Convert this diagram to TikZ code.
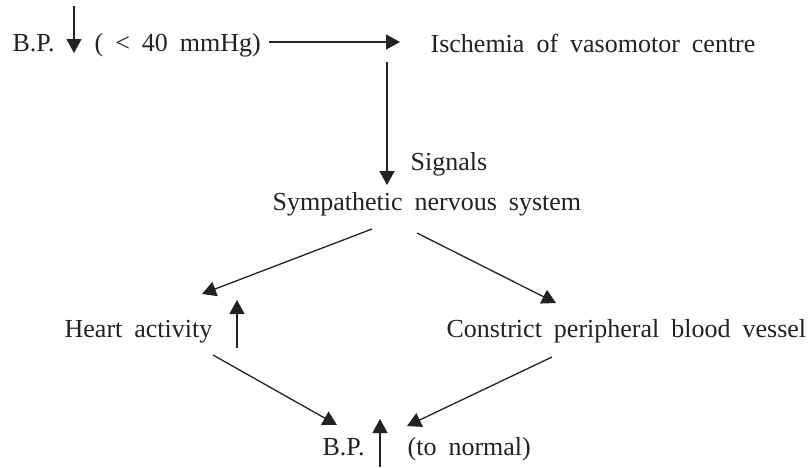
\documentclass[tikz,border=0pt]{standalone}
\usepackage{fontspec}
\setmainfont{Liberation Serif}
\usetikzlibrary{arrows.meta}

\definecolor{ink}{RGB}{34,34,34}
\tikzset{every picture/.style={line width=1.3pt}}
\tikzset{
  lbl/.style={anchor=base west, inner sep=0pt, text=ink,
    font=\fontsize{26}{31}\selectfont,
    execute at begin node={\spaceskip=12pt\relax}},
  arr/.style={draw=ink, -{Triangle[length=14pt,width=15pt]}}
}

\begin{document}
\begin{tikzpicture}[x=1pt,y=1pt,yscale=-1,xscale=1]
	\useasboundingbox (0,0) rectangle (809,467);

	% Text Node
	\node[lbl] (bpLow) at (12,51) {B.P.};
	% Text Node
	\node[lbl] (mmhg) at (94,51) {( < 40 mmHg)};
	% Text Node
	\node[lbl] (ischemia) at (430,52) {Ischemia of vasomotor centre};
	% Text Node
	\node[lbl] (signals) at (410,170) {Signals};
	% Text Node
	\node[lbl] (sympathetic) at (272,210) {Sympathetic nervous system};
	% Text Node
	\node[lbl] (heart) at (64,337) {Heart activity};
	% Text Node
	\node[lbl] (constrict) at (446,337) {Constrict peripheral blood vessel};
	% Text Node
	\node[lbl] (bpHigh) at (322,455) {B.P.};
	% Text Node
	\node[lbl] (normal) at (407,455) {(to normal)};

	% arrow ends
	\coordinate (fallTop) at (74,6);
	\coordinate (fallTip) at (74,53);
	\coordinate (toIschA) at (269,42);
	\coordinate (toIschB) at (400,42);
	\coordinate (sigTop) at (387,62);
	\coordinate (sigTip) at (387,185);
	\coordinate (symL) at (372,229);
	\coordinate (heartIn) at (202,294);
	\coordinate (symR) at (417,233);
	\coordinate (vesselIn) at (556,303);
	\coordinate (heartUpA) at (237,348);
	\coordinate (heartUpB) at (237,300);
	\coordinate (heartOut) at (213,355);
	\coordinate (bpInL) at (337,425);
	\coordinate (vesselOut) at (552,357);
	\coordinate (bpInR) at (407,426);
	\coordinate (riseA) at (380,467);
	\coordinate (riseB) at (380,419);

	%Straight Lines
	\draw[arr] (fallTop) -- (fallTip);
	\draw[arr] (toIschA) -- (toIschB);
	\draw[arr] (sigTop) -- (sigTip);
	\draw[arr] (symL) -- (heartIn);
	\draw[arr] (symR) -- (vesselIn);
	\draw[arr] (heartUpA) -- (heartUpB);
	\draw[arr] (heartOut) -- (bpInL);
	\draw[arr] (vesselOut) -- (bpInR);
	\draw[arr] (riseA) -- (riseB);
\end{tikzpicture}
\end{document}
